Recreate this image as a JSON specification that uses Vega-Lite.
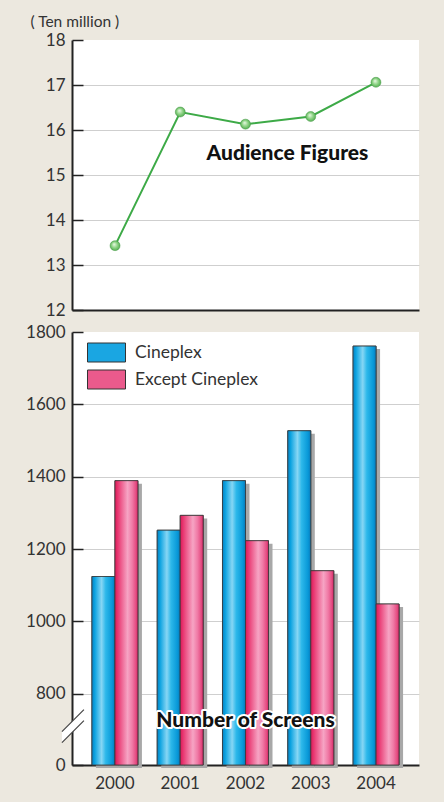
{
  "$schema": "https://vega.github.io/schema/vega-lite/v6.json",
  "background": "#ece8df",
  "padding": {"left": 25, "top": 14, "right": 30, "bottom": 20},
  "spacing": 22,
  "bounds": "flush",
  "config": {
    "font": "Lato",
    "view": {"fill": "white", "stroke": null}
  },
  "vconcat": [
    {
      "width": 347,
      "height": 270,
      "data": {"values": [
        {"year": "2000", "audience": 13.43},
        {"year": "2001", "audience": 16.4},
        {"year": "2002", "audience": 16.13},
        {"year": "2003", "audience": 16.3},
        {"year": "2004", "audience": 17.06}
      ]},
      "encoding": {
        "x": {"field": "year", "type": "nominal", "scale": {"type": "point", "padding": 0.66},
          "axis": {"labels": false, "ticks": false, "title": null, "domainColor": "#222", "domainWidth": 2, "grid": false}},
        "y": {"field": "audience", "type": "quantitative", "scale": {"domain": [12, 18], "nice": false, "zero": false},
          "axis": {"title": "( Ten million )", "titleAngle": 0, "titleAlign": "left", "titleBaseline": "middle", "titleX": -42, "titleY": -19,
            "titleFontSize": 15.5, "titleFontWeight": "normal", "titleColor": "#333", "titleFont": "Lato",
            "values": [12, 13, 14, 15, 16, 17, 18], "format": "d", "tickSize": -11, "tickColor": "#222", "tickWidth": 1.5,
            "domainColor": "#222", "domainWidth": 2, "labelFontSize": 17, "labelColor": "#333", "labelPadding": 18,
            "gridColor": "#cfcfcf", "gridWidth": 1.2,
            "gridOpacity": {"condition": {"test": "datum.value == 12 || datum.value == 18", "value": 0}, "value": 1}}}
      },
      "layer": [
        {"mark": {"type": "line", "color": "#3daa47", "strokeWidth": 2}},
        {"mark": {"type": "point", "filled": true, "size": 100, "opacity": 1, "stroke": "#4a9a4a", "strokeWidth": 0.5,
          "fill": {"gradient": "radial", "x1": 0.4, "y1": 0.35, "r1": 0, "x2": 0.5, "y2": 0.5, "r2": 0.55,
            "stops": [{"offset": 0, "color": "#eefaea"}, {"offset": 0.5, "color": "#93d68a"}, {"offset": 1, "color": "#4aa84a"}]}}},
        {"transform": [{"filter": "datum.year == '2002'"}],
          "mark": {"type": "text", "align": "left", "baseline": "middle", "dx": -39, "fontSize": 21, "fontWeight": 900, "color": "#111"},
          "encoding": {"y": {"datum": 15.47, "type": "quantitative"}, "text": {"value": "Audience Figures"}}}
      ]
    },
    {
      "width": 347,
      "height": 433,
      "data": {"values": [
        {"year": "2000", "series": "Cineplex", "screens": 1124},
        {"year": "2000", "series": "Except Cineplex", "screens": 1389},
        {"year": "2001", "series": "Cineplex", "screens": 1252},
        {"year": "2001", "series": "Except Cineplex", "screens": 1293},
        {"year": "2002", "series": "Cineplex", "screens": 1389},
        {"year": "2002", "series": "Except Cineplex", "screens": 1223},
        {"year": "2003", "series": "Cineplex", "screens": 1527},
        {"year": "2003", "series": "Except Cineplex", "screens": 1140},
        {"year": "2004", "series": "Cineplex", "screens": 1761},
        {"year": "2004", "series": "Except Cineplex", "screens": 1048}
      ]},
      "encoding": {
        "x": {"field": "year", "type": "nominal", "scale": {"type": "band", "paddingInner": 0.295, "paddingOuter": 0.305},
          "axis": {"title": null, "labelAngle": 0, "ticks": false, "labelPadding": 10, "labelFontSize": 17, "labelColor": "#333",
            "domainColor": "#222", "domainWidth": 2, "grid": false}},
        "y": {"field": "screens", "type": "quantitative", "scale": {"domain": [0, 800, 1800], "range": [433, 361.7, 0], "nice": false},
          "axis": {"title": null, "values": [0, 800, 1000, 1200, 1400, 1600, 1800], "format": "d", "tickSize": -11, "tickColor": "#222", "tickWidth": 1.5,
            "domainColor": "#222", "domainWidth": 2, "labelFontSize": 17, "labelColor": "#333", "labelPadding": 18,
            "gridColor": "#cfcfcf", "gridWidth": 1.2,
            "gridOpacity": {"condition": {"test": "datum.value == 0 || datum.value == 1800", "value": 0}, "value": 1}}}
      },
      "layer": [
        {"transform": [{"filter": "datum.series == 'Cineplex'"}],
          "mark": {"type": "bar", "width": 23, "xOffset": -7.5, "yOffset": 3, "color": "#a8a8a8"}},
        {"transform": [{"filter": "datum.series == 'Except Cineplex'"}],
          "mark": {"type": "bar", "width": 23, "xOffset": 15.5, "yOffset": 3, "color": "#a8a8a8"}},
        {"mark": {"type": "bar", "stroke": "#3a3a3a", "strokeWidth": 0.8},
          "encoding": {
            "xOffset": {"field": "series", "type": "nominal", "scale": {"domain": ["Cineplex", "Except Cineplex"], "paddingInner": 0, "paddingOuter": 0}},
            "color": {"field": "series", "type": "nominal",
              "scale": {"domain": ["Cineplex", "Except Cineplex"], "range": ["#1aa6e2", "#ea5a8c"]},
              "legend": {"orient": "none", "legendX": 15, "legendY": 299, "title": null, "symbolType": "M-1,-0.5H1V0.5H-1Z",
                "symbolSize": 1444, "symbolStrokeColor": "#333", "symbolStrokeWidth": 1, "symbolOpacity": 1,
                "labelFontSize": 17.5, "labelFont": "Lato", "labelColor": "#333", "labelOffset": 9, "rowPadding": 0, "clipHeight": 27}}
          }},
        {"transform": [{"filter": "datum.series == 'Cineplex'"}],
          "mark": {"type": "bar", "stroke": "#3a3a3a", "strokeWidth": 0.8,
            "fill": {"gradient": "linear", "x1": 0, "y1": 0, "x2": 1, "y2": 0, "stops": [
              {"offset": 0, "color": "#0a7fc0"}, {"offset": 0.12, "color": "#0aa2e0"}, {"offset": 0.42, "color": "#86d6f4"},
              {"offset": 0.6, "color": "#2db8ea"}, {"offset": 0.88, "color": "#0898d8"}, {"offset": 1, "color": "#0a78b8"}]}},
          "encoding": {"xOffset": {"field": "series", "type": "nominal"}}},
        {"transform": [{"filter": "datum.series == 'Except Cineplex'"}],
          "mark": {"type": "bar", "stroke": "#3a3a3a", "strokeWidth": 0.8,
            "fill": {"gradient": "linear", "x1": 0, "y1": 0, "x2": 1, "y2": 0, "stops": [
              {"offset": 0, "color": "#d81a58"}, {"offset": 0.12, "color": "#e8356f"}, {"offset": 0.55, "color": "#f6a4c4"},
              {"offset": 0.75, "color": "#f07aa6"}, {"offset": 0.92, "color": "#e44a80"}, {"offset": 1, "color": "#cc2060"}]}},
          "encoding": {"xOffset": {"field": "series", "type": "nominal"}}},
        {"transform": [{"filter": "datum.year == '2000' && datum.series == 'Cineplex'"}],
          "mark": {"type": "point", "filled": true, "fill": "white", "strokeWidth": 0, "size": 4, "opacity": 1, "shape": "M-53,4L-31,-18L-31,-7L-53,15Z"},
          "encoding": {"y": {"datum": 420, "type": "quantitative"}}},
        {"transform": [{"filter": "datum.year == '2000' && datum.series == 'Cineplex'"}],
          "mark": {"type": "point", "filled": false, "stroke": "#444", "strokeWidth": 1.2, "size": 4, "opacity": 1, "shape": "M-53,4L-31,-18M-53,15L-31,-7"},
          "encoding": {"y": {"datum": 420, "type": "quantitative"}}},
        {"transform": [{"filter": "datum.year == '2002' && datum.series == 'Cineplex'"}],
          "mark": {"type": "text", "align": "center", "baseline": "middle", "fontSize": 21, "fontWeight": 900, "stroke": "white", "strokeWidth": 4, "strokeJoin": "round", "fill": "white"},
          "encoding": {"y": {"datum": 494, "type": "quantitative"}, "text": {"value": "Number of Screens"}}},
        {"transform": [{"filter": "datum.year == '2002' && datum.series == 'Cineplex'"}],
          "mark": {"type": "text", "align": "center", "baseline": "middle", "fontSize": 21, "fontWeight": 900, "color": "#111"},
          "encoding": {"y": {"datum": 494, "type": "quantitative"}, "text": {"value": "Number of Screens"}}}
      ]
    }
  ]
}
